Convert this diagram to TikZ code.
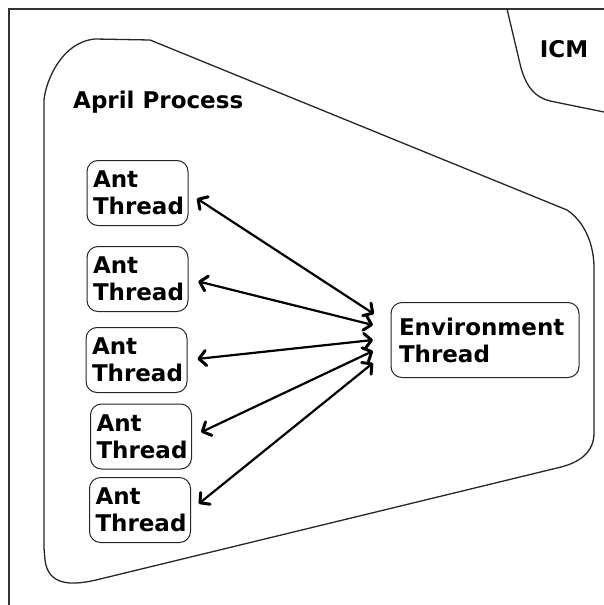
\documentclass[tikz,border=0pt]{standalone}
\usepackage{fontspec}
\setmainfont{DejaVu Sans}
\usetikzlibrary{arrows.meta}
\begin{document}
\begin{tikzpicture}[x=1pt,y=-1pt,
  lbl/.style={font=\fontsize{23}{27}\selectfont\bfseries},
  thread/.style={lbl, draw=black!85, line width=1pt, rounded corners=11pt,
    align=left, inner xsep=6pt, inner ysep=0pt},
  antbox/.style={thread, text width=89pt, minimum width=101pt, minimum height=65pt},
  envbox/.style={thread, text width=172pt, minimum width=186pt, minimum height=75pt, inner xsep=8pt},
  region/.style={draw=black!85, line width=1.3pt},
  barb/.tip={Straight Barb[length=7pt,width=15pt,line width=3pt,round]},
  link/.style={line width=2.2pt, shorten <=10pt, barb-barb}
]
\useasboundingbox (0,0) rectangle (604,605);

% outer frame (open on the right and bottom)
\draw[line width=1.5pt, black!80] (9,605) -- (9,9) -- (604,9);

% ICM region in the top right corner
\draw[region] (507,9) -- (521,68) .. controls (527,88) and (535,97) .. (550,101) -- (604,112);
\node[lbl, anchor=base] (icm) at (564,57) {ICM};

% April process boundary
\draw[region] (44,548) -- (44,100)
  .. controls (46,80) and (62,42) .. (95,39) -- (150,40) -- (567,210)
  .. controls (585,222) and (594,245) .. (594,268) -- (594,433)
  .. controls (594,452) and (580,463) .. (557,468) -- (96,580)
  .. controls (70,586) and (48,585) .. (45,560) -- cycle;
\node[lbl, anchor=base west, inner sep=0pt] (april) at (73,108) {April Process};

% threads
\node[antbox] (a1) at (137.5,193) {Ant\\Thread};
\node[antbox] (a2) at (137.5,279) {Ant\\Thread};
\node[antbox] (a3) at (136.5,360) {Ant\\Thread};
\node[antbox] (a4) at (141,436.5) {Ant\\Thread};
\node[antbox] (a5) at (140,510) {Ant\\Thread};
\node[envbox] (env) at (485,340) {Environment\\Thread};

% meeting points of the links left of the environment thread
\coordinate (e1) at (374,314);
\coordinate (e2) at (373,325);
\coordinate (e3) at (373,340);
\coordinate (e4) at (373,351);
\coordinate (e5) at (373,363);

\draw[link] (a1.east) -- (e1);
\draw[link] (a2.east) -- (e2);
\draw[link] (a3.east) -- (e3);
\draw[link] (a4.east) -- (e4);
\draw[link] (a5.east) -- (e5);
\end{tikzpicture}
\end{document}
